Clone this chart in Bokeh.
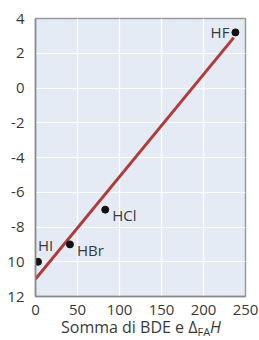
from bokeh.plotting import figure
from bokeh.models import Range1d, FixedTicker, ColumnDataSource, Div
from bokeh.layouts import column
from bokeh.core.properties import value
from bokeh.embed import file_html
from bokeh.resources import INLINE

# data
names = ["HI", "HBr", "HCl", "HF"]
bde_sum = [3, 41, 83, 238]
pka = [-10, -9, -7, 3.2]
fit_x = [0, 236]
fit_y = [-11, 2.9]
x_ticks = [0, 50, 100, 150, 200, 250]
y_ticks = [4, 2, 0, -2, -4, -6, -8, -10, -12]
y_tick_labels = ["4", "2", "0", "-2", "-4", "-6", "-8", "10", "12"]
x_title = ('Somma di BDE e Δ<sub style="font-size:11px;line-height:0;vertical-align:-3px">FA</sub>'
           '<i>H</i>')

# styling offsets for point labels (px)
lab_dx = [0, 7, 7, -6]
lab_dy = [-17, 6, 5, 0]
lab_align = ["left", "left", "left", "right"]

FONT = "Open Sans"
TXT = "#3a3a3a"

p = figure(width=259, height=318, output_backend="svg", toolbar_location=None,
           x_range=Range1d(0, 250), y_range=Range1d(-12, 4),
           min_border_left=35, min_border_right=14, min_border_top=18, min_border_bottom=22)
p.background_fill_color = "#e5ebf4"
p.border_fill_color = "white"
p.outline_line_color = "#9a9a9a"
p.outline_line_width = 1.5

for ax in (p.xaxis[0], p.yaxis[0]):
    ax.major_tick_line_color = None
    ax.minor_tick_line_color = None
    ax.axis_line_color = "#8a8a8a"
    ax.axis_line_width = 1.5
    ax.major_label_text_font = FONT
    ax.major_label_text_font_size = "15px"
    ax.major_label_text_color = TXT

p.xaxis.ticker = FixedTicker(ticks=x_ticks)
p.yaxis.ticker = FixedTicker(ticks=y_ticks)
p.yaxis.major_label_overrides = {t: l for t, l in zip(y_ticks, y_tick_labels)}
p.xaxis.major_label_standoff = 2
p.yaxis.major_label_standoff = 5

p.xgrid.grid_line_color = "white"
p.ygrid.grid_line_color = "white"
p.xgrid.grid_line_width = 1.2
p.ygrid.grid_line_width = 1.2

p.line(fit_x, fit_y, line_color="#b23a3a", line_width=3)
src = ColumnDataSource(dict(x=bde_sum, y=pka, t=names, dx=lab_dx, dy=lab_dy, al=lab_align))
p.scatter("x", "y", source=src, size=7, color="#111111")
p.text("x", "y", text="t", source=src, x_offset="dx", y_offset="dy", text_align="al",
       text_baseline="middle", text_font=value(FONT), text_font_size="15px", text_color=TXT)

title = Div(text=x_title, width=259, height=22, margin=0,
            styles={"font-family": FONT, "font-size": "16px", "color": TXT,
                    "padding-left": "61px", "line-height": "18px", "white-space": "nowrap",
                    "overflow": "visible"})

layout = column(p, title, spacing=0)
open("out.html", "w").write(file_html(layout, INLINE))
